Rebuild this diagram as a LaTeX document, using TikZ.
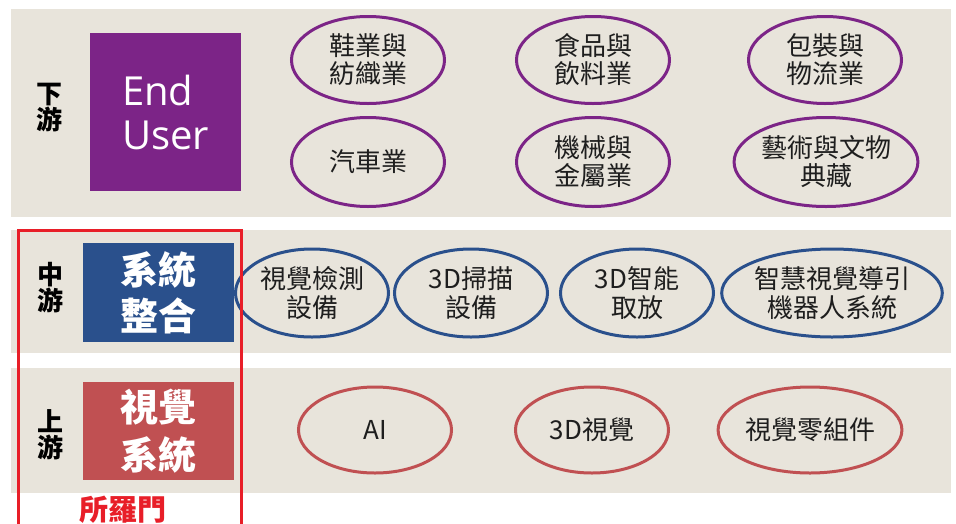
\documentclass[tikz,border=0pt]{standalone}
\usepackage{fontspec}
\setmainfont{Open Sans}
\newfontfamily\cjk{Noto Sans CJK TC}
\newfontfamily\latinsans{Open Sans}
\usetikzlibrary{shapes.geometric}
\definecolor{bandc}{RGB}{232,228,219}
\definecolor{purplec}{RGB}{124,36,135}
\definecolor{bluec}{RGB}{42,80,140}
\definecolor{redc}{RGB}{192,80,82}
\definecolor{framec}{RGB}{232,30,40}
\definecolor{ovtext}{RGB}{30,30,30}
\tikzset{
  bandbox/.style={fill=bandc},
  catbox/.style={inner sep=0pt, text=white, align=center, minimum width=151pt},
  sidelabel/.style={inner sep=0pt, align=center, font=\cjk\bfseries\fontsize{26}{26}\selectfont},
  oval/.style={ellipse, draw, line width=3pt, inner sep=0pt, align=center, text=ovtext,
     minimum width=153pt, minimum height=87pt, font=\cjk\fontsize{26}{28}\selectfont},
  ovp/.style={oval, draw=purplec},
  ovb/.style={oval, draw=bluec},
  ovr/.style={oval, draw=redc},
}
\begin{document}
\begin{tikzpicture}[x=1pt,y=-1pt]
\useasboundingbox (0,0) rectangle (956,523);
\fill[white] (0,0) rectangle (956,523);
% bands
\fill[bandbox] (11,9) rectangle (951,217);
\fill[bandbox] (11,230) rectangle (951,353);
\fill[bandbox] (11,368) rectangle (951,493);
% category boxes
\node[catbox, fill=purplec, minimum height=158pt, align=left,
      font=\latinsans\fontsize{40}{44}\selectfont] (enduser) at (165.5,112) {End\\User};
\node[catbox, fill=bluec, minimum height=99pt,
      font=\cjk\bfseries\fontsize{38}{46}\selectfont] (si) at (158.5,292.5) {系統\\整合};
\node[catbox, fill=redc, minimum height=98pt,
      font=\cjk\bfseries\fontsize{38}{48}\selectfont] (vs) at (158.5,431) {視覺\\系統};
% side labels
\node[sidelabel] (down) at (49,107.5) {下\\游};
\node[sidelabel] (mid) at (50,287.5) {中\\游};
\node[sidelabel] (up) at (50,434.5) {上\\游};
% top ovals
\node[ovp] (o1) at (368,60) {鞋業與\\紡織業};
\node[ovp] (o2) at (593,60) {食品與\\飲料業};
\node[ovp] (o3) at (825,60) {包裝與\\物流業};
\node[ovp, minimum height=89pt] (o4) at (368,162) {汽車業};
\node[ovp, minimum height=89pt] (o5) at (593,162) {機械與\\金屬業};
\node[ovp, minimum height=89pt] (o6) at (826,162) {藝術與文物\\典藏};
% middle ovals
\node[ovb, minimum height=88pt, font=\cjk\fontsize{26}{29}\selectfont] (m1) at (312,293) {視覺檢測\\設備};
\node[ovb, minimum height=88pt, font=\cjk\fontsize{26}{29}\selectfont] (m2) at (471,293) {3D掃描\\設備};
\node[ovb, minimum height=88pt, font=\cjk\fontsize{26}{29}\selectfont] (m3) at (637,293) {3D智能\\取放};
\node[ovb, minimum height=88pt, minimum width=213pt, font=\cjk\fontsize{26}{29}\selectfont] (m4) at (832,293) {智慧視覺導引\\機器人系統};
% bottom ovals
\node[ovr, minimum height=86pt] (b1) at (375,430) {AI};
\node[ovr, minimum height=86pt] (b2) at (592,430) {3D視覺};
\node[ovr, minimum height=86pt] (b3) at (810,430) {視覺零組件};
% red frame
\coordinate (fbl) at (18,530);
\coordinate (ftl) at (18,230);
\coordinate (ftr) at (241,230);
\coordinate (fbr) at (241,530);
\draw[framec, line width=3pt] (fbl) -- (ftl) -- (ftr) -- (fbr);
\node[inner sep=0pt, text=framec, font=\cjk\bfseries\fontsize{29}{29}\selectfont] (solomon) at (123,510) {所羅門};
\end{tikzpicture}
\end{document}
